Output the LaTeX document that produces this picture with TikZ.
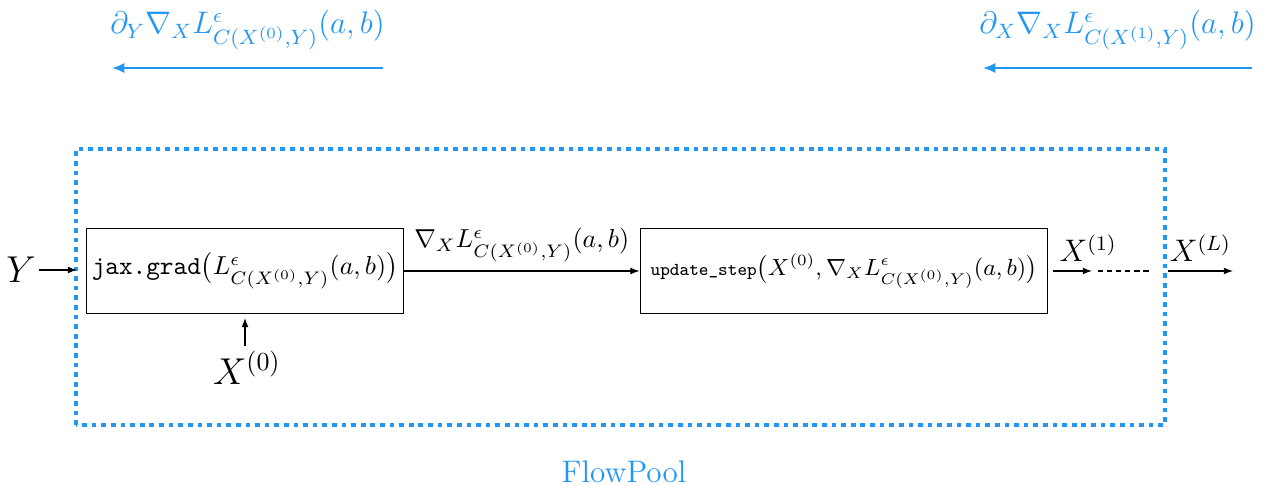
\documentclass[tikz,border=0pt]{standalone}
\usepackage{amsmath}
\usepackage{tikz}
\usepackage{xcolor}
\usetikzlibrary{arrows.meta, calc, positioning}

\definecolor{poolblue}{RGB}{33,150,243}
\newcommand{\lossC}[1]{L^{\epsilon}_{C(X^{(#1)},Y)}(a,b)}

\begin{document}
\begin{tikzpicture}[x=0.01353cm, y=0.01353cm, >={Latex[length=3.5pt,width=2.6pt]},
    block/.style={draw, minimum height=1.15cm, inner sep=2pt},
    back/.style={poolblue, line width=1.1pt, -{Latex[length=4.8pt,width=4pt]}},
    pooldots/.style={poolblue, line width=1.8pt, dash pattern=on 1.8pt off 1.9pt}]
    \useasboundingbox (0,0) rectangle (1271,485);
    % the pool frame and its name
    \draw[pooldots] (76,60) rectangle (1165,336);
    \node[poolblue, font=\large] (pool) at (624,13) {FlowPool};
    % the two blocks
    \node[block, minimum width=4.25cm] (grad) at (245,214)
        {$\texttt{jax.grad}\bigl(\lossC{0}\bigr)$};
    \node[block, minimum width=5.52cm, font=\small] (step) at (844,214)
        {$\texttt{\scriptsize update\_step}\bigl(X^{(0)},\nabla_X\lossC{0}\bigr)$};
    \node[font=\Large, inner sep=1pt] (y) at (21,215) {$Y$};
    \node[font=\Large, inner sep=1pt] (x0) at (247,117) {$X^{(0)}$};
    \coordinate (yin) at (77,215);
    \coordinate (x1) at (1092,214);
    \coordinate (dots) at (1152,214);
    \coordinate (xlin) at (1168,214);
    \coordinate (xl) at (1233,214);
    \draw[->] (y) -- (yin);
    \draw[->] (x0.north -| grad.south) ++(0,2) -- ($(grad.south)+(0,-4)$);
    \draw[->] (grad) -- node[above] {$\nabla_X\lossC{0}$} (step);
    \draw[->] (step.east) ++(5,0) -- node[above, pos=0.9] {\large$X^{(1)}$} (x1);
    \draw[dash pattern=on 2pt off 1.5pt] ($(x1)+(6,0)$) -- (dots);
    \draw[->] (xlin) -- node[above] {\large$X^{(L)}$} (xl);
    % gradients flowing back
    \coordinate (ga) at (383,417);
    \coordinate (gb) at (112,417);
    \coordinate (gc) at (1252,417);
    \coordinate (gd) at (983,417);
    \draw[back] (ga) -- node[above=3pt, font=\large] {$\partial_Y\nabla_X\lossC{0}$} (gb);
    \draw[back] (gc) -- node[above=3pt, font=\large] {$\partial_X\nabla_X\lossC{1}$} (gd);
\end{tikzpicture}
\end{document}
